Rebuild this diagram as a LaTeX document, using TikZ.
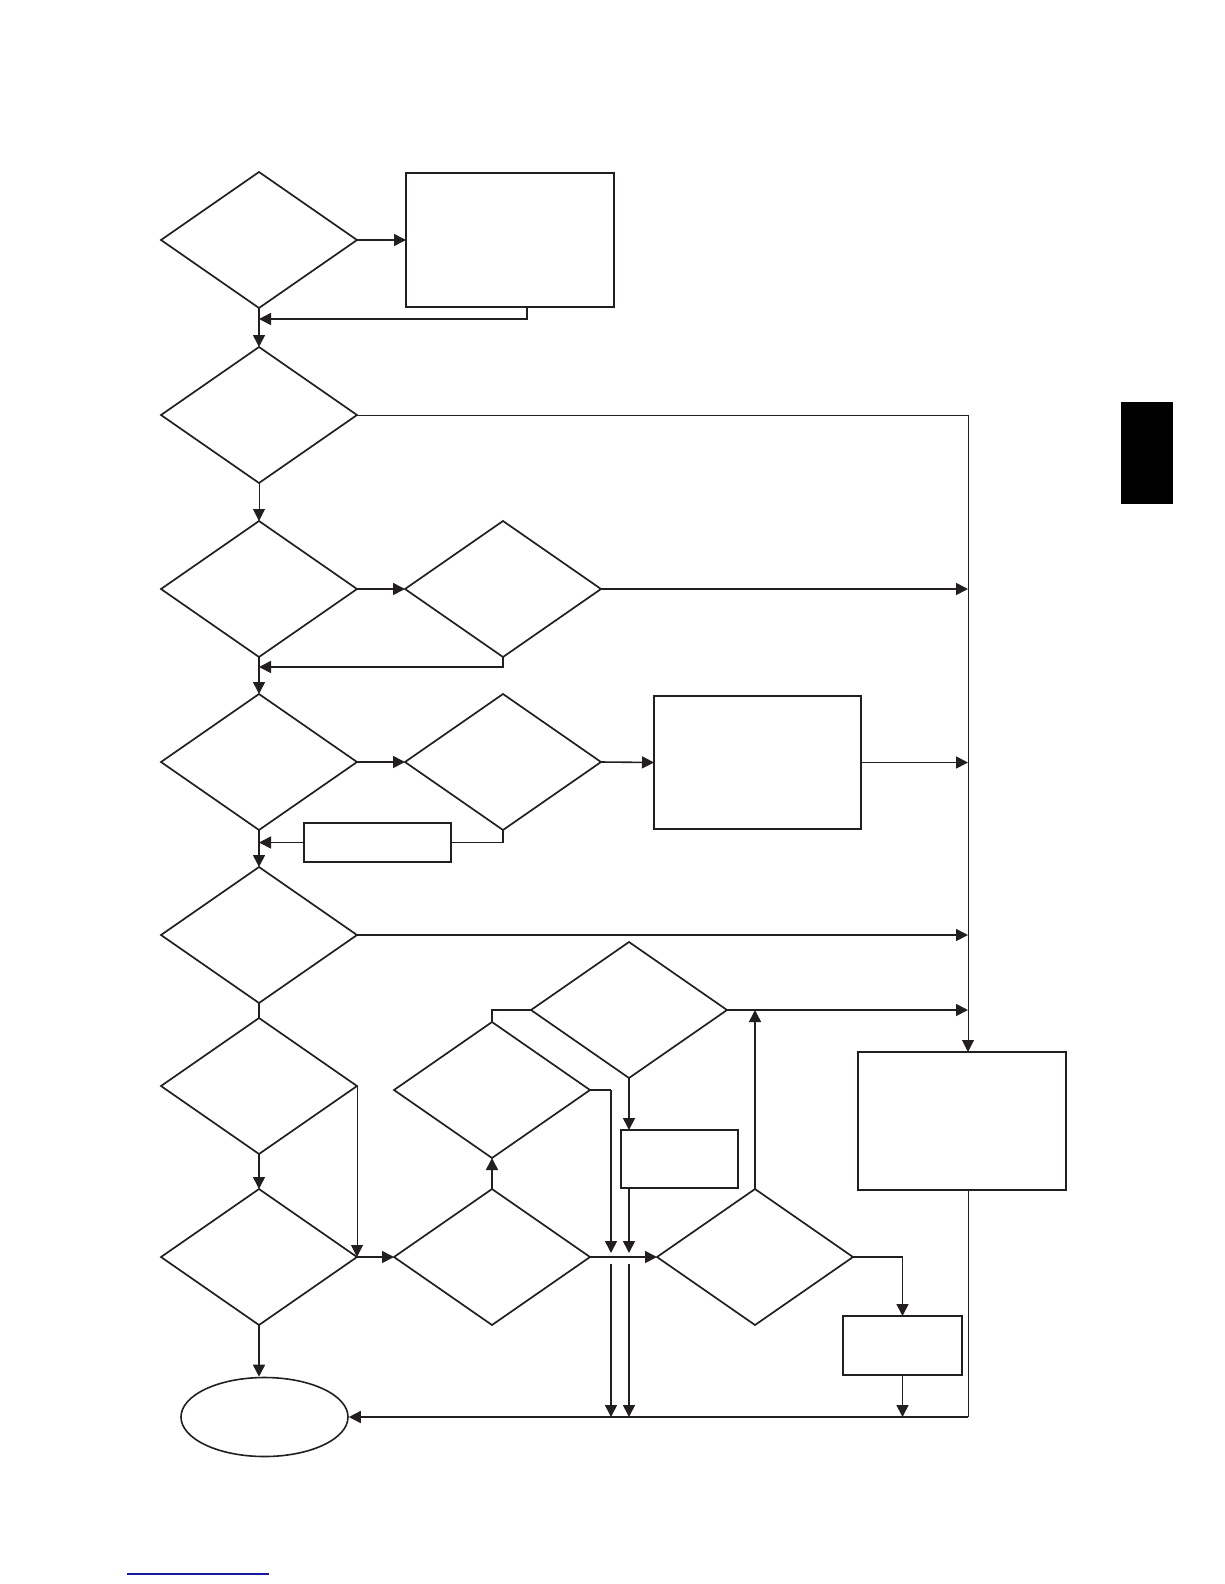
\documentclass[tikz,border=0pt]{standalone}
\usepackage{tikz}
\usetikzlibrary{positioning,shapes.geometric,arrows.meta,calc}
\definecolor{ink}{HTML}{231F20}
\definecolor{linkblue}{HTML}{1A1AA0}

\begin{document}
\begin{tikzpicture}[x=1pt, y=-1pt,
    decision/.style={draw=ink, diamond, line width=1.7pt, inner sep=0pt, outer sep=0pt,
                     minimum width=196pt, minimum height=136pt},
    proc/.style={draw=ink, rectangle, line width=2pt, inner sep=0pt, outer sep=0pt},
    link/.style={draw=ink, line width=1.6pt},
    thinlink/.style={draw=ink, line width=1pt},
    arr/.style={-{Triangle[length=12pt, width=12pt]}}]
      \useasboundingbox (0,0) rectangle (1224,1584);
      % Left column
      \node[decision] (d1) at (259,240) {};
      \node[proc, minimum width=208pt, minimum height=134pt] (b1) at (510,240) {};
      \node[decision] (d2) at (259,415) {};
      \node[decision] (d3) at (259,589) {};
      \node[decision] (d3b) at (503,589) {};
      \node[decision] (d4) at (259,762) {};
      \node[decision] (d4b) at (503,762) {};
      \node[proc, minimum width=207pt, minimum height=133pt] (b4) at (757.5,762.5) {};
      \node[proc, minimum width=147pt, minimum height=39pt] (b4s) at (377.5,842.5) {};
      \node[decision] (d5) at (259,935) {};
      \node[decision] (d6) at (259,1086) {};
      \node[decision] (d7) at (259,1257) {};
      \node[draw=ink, ellipse, line width=1.6pt, inner sep=0pt,
            minimum width=167pt, minimum height=79pt] (endo) at (264.5,1417) {};
      % Lower middle block
      \node[decision] (d8) at (492,1257) {};
      \node[decision] (d9) at (492,1090) {};
      \node[decision] (d10) at (629,1010) {};
      \node[decision] (d11) at (755,1257) {};
      \node[proc, minimum width=117pt, minimum height=58pt] (b10) at (679.5,1159) {};
      \node[proc, minimum width=119pt, minimum height=59pt] (b11) at (902.5,1345.5) {};
      \node[proc, minimum width=208pt, minimum height=138pt] (br) at (962,1121) {};
      % Junctions
      \coordinate (j1) at (259,319);
      \coordinate (j3) at (259,667);
      \coordinate (t1) at (968,415);
      \coordinate (k1) at (611,1090);
      \coordinate (bl) at (968,1417);
      % Connectors, left column
      \draw[link, arr] (d1.east) -- (b1.west);
      \draw[link, arr] ([xshift=17pt]b1.south) |- (j1);
      \draw[link, arr] (d1.south) -- (d2.north);
      \draw[thinlink] (d2.east) -- (t1);
      \draw[thinlink, arr] (t1) -- (t1 |- br.north);
      \draw[thinlink, arr] (d2.south) -- (d3.north);
      \draw[link, arr] (d3.east) -- (d3b.west);
      \draw[link, arr] (d3b.east) -- (d3b.east -| t1);
      \draw[link, arr] (d3b.south) |- (j3);
      \draw[link, arr] (d3.south) -- (d4.north);
      \draw[link, arr] (d4.east) -- (d4b.west);
      \draw[link, arr] (d4b.east) -- (b4.west);
      \draw[link, arr] (b4.east) -- (b4.east -| t1);
      \draw[link] (d4b.south) |- (b4s.east);
      \draw[link, arr] (b4s.west) -- (b4s.west -| d4.south);
      \draw[link, arr] (d4.south) -- (d5.north);
      \draw[link, arr] (d5.east) -- (d5.east -| t1);
      \draw[link] (d5.south) -- (d6.north);
      \draw[link, arr] (d6.south) -- (d7.north);
      \draw[thinlink, arr] (d6.east) -- (d7.east);
      \draw[link, arr] (d7.east) -- (d8.west);
      \draw[link, arr] (d7.south) -- (d7.south |- endo.north);
      % Connectors, lower middle
      \draw[link, arr] (d8.north) -- (d9.south);
      \draw[link] (d9.north) |- (d10.west);
      \draw[link, arr] (d10.east) -- (d10.east -| t1);
      \draw[link, arr] (d11.north) -- (d11.north |- d10.east);
      \draw[link, arr] (d10.south) -- (d10.south |- b10.north);
      \draw[link, arr] (d10.south |- b10.south) -- ([yshift=4pt]d10.south |- d8.east);
      \draw[link] (d9.east) -- (k1);
      \draw[link, arr] (k1) -- ([yshift=4pt]k1 |- d8.east);
      \draw[link, arr] (d8.east) -- (d11.west);
      \draw[link, arr] ([yshift=-7pt]k1 |- d8.east) -- (k1 |- bl);
      \draw[link, arr] ([yshift=-7pt]d10.south |- d8.east) -- (d10.south |- bl);
      \draw[link, arr] (d11.east) -| (b11.north);
      \draw[link, arr] (b11.south) -- (b11.south |- bl);
      \draw[thinlink] (t1 |- br.south) -- (bl);
      \draw[link, arr] (bl) -- (endo.east);
      % Page marks
      \fill[black] (1121,402) rectangle (1173,504);
      \draw[linkblue, line width=1.2pt] (127,1574) -- (269,1574);
\end{tikzpicture}
\end{document}
